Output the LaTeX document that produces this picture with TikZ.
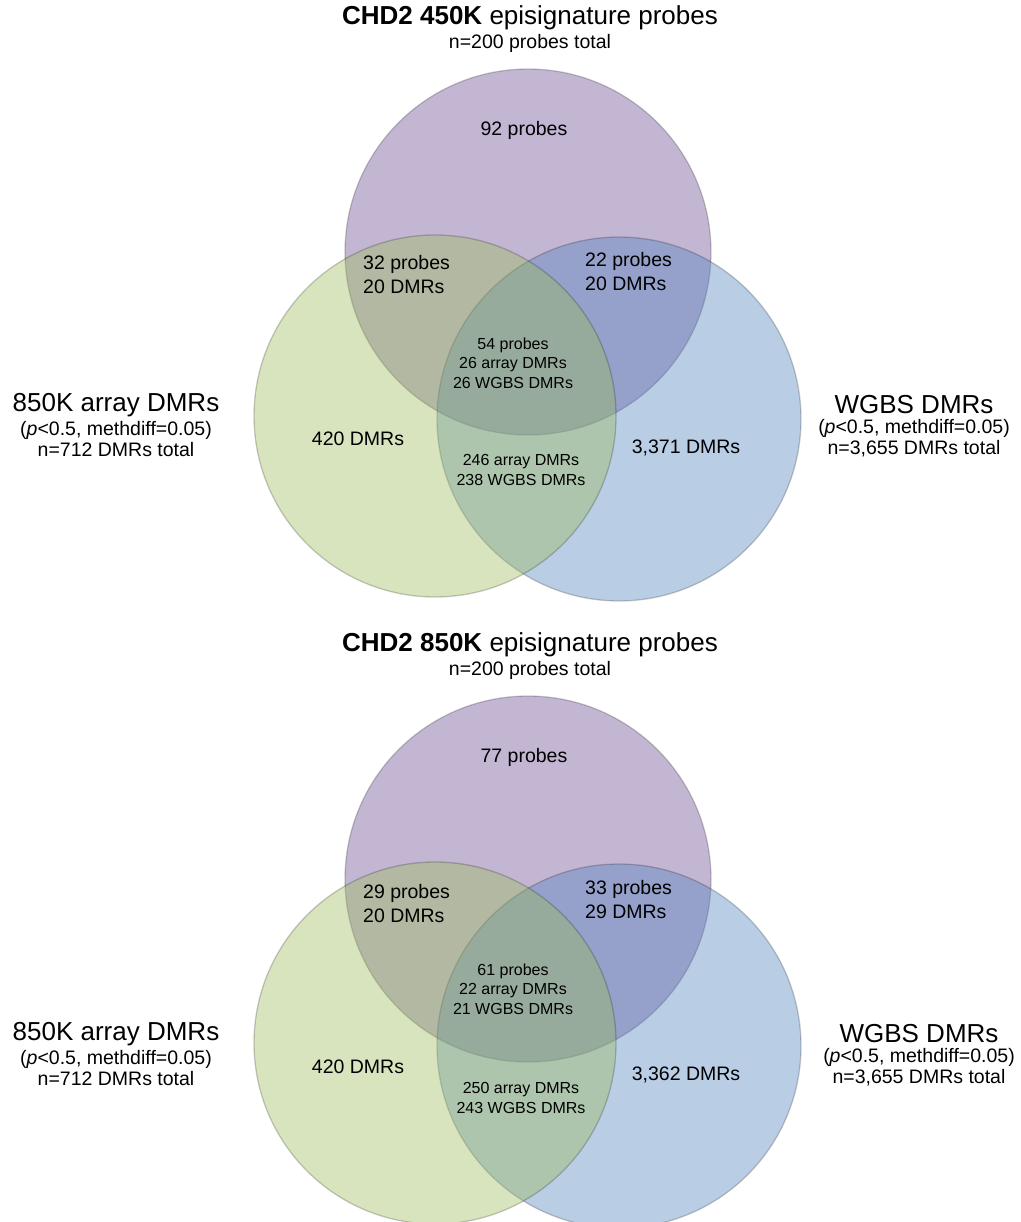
\documentclass[tikz,border=0pt]{standalone}
\usepackage{fontspec}
\setmainfont{Liberation Sans}
\usetikzlibrary{positioning}
\definecolor{probeset}{HTML}{8064A2}
\definecolor{arrayset}{HTML}{9BBB59}
\definecolor{wgbsset}{HTML}{4F81BD}
\newcommand{\fhead}{\fontsize{26}{30}\selectfont}
\newcommand{\fmid}{\fontsize{19.5}{24}\selectfont}
\newcommand{\fsub}{\fontsize{19.5}{21}\selectfont}
\newcommand{\fsmall}{\fontsize{16}{19.5}\selectfont}
% the three sets, probes at the back, array in front
\newcommand{\vennsets}{%
  \draw[ring, fill=probeset, fill opacity=0.47] (528,252) circle (183pt);
  \draw[ring, fill=wgbsset, fill opacity=0.4] (619,419) circle (182pt);
  \draw[ring, fill=arrayset, fill opacity=0.4] (435,416) circle (181pt);
}

\begin{document}
\begin{tikzpicture}[x=1pt,y=-1pt,
    ring/.style={line width=1.3pt, draw=black, draw opacity=0.2},
    txt/.style={inner sep=0pt, align=center}]
  \useasboundingbox (0,0) rectangle (1020,1222);

  % 450K episignature
  \vennsets
  \node[txt,font=\fhead] (T1) at (530,18) {\textbf{CHD2 450K} episignature probes};
  \node[txt,font=\fsub,below=4pt of T1] (N1) {n=200 probes total};
  \node[txt,font=\fmid] (P1) at (524,130) {92 probes};
  \node[txt,font=\fmid,align=left,anchor=west] (PA1) at (363,275) {32 probes\\20 DMRs};
  \node[txt,font=\fmid,align=left,anchor=west] (PC1) at (585,272) {22 probes\\20 DMRs};
  \node[txt,font=\fsmall] (PAC1) at (513,363) {54 probes\\26 array DMRs\\26 WGBS DMRs};
  \node[txt,font=\fmid] (A1) at (358,439) {420 DMRs};
  \node[txt,font=\fmid] (C1) at (686,448) {3,371 DMRs};
  \node[txt,font=\fsmall] (AC1) at (521,470) {246 array DMRs\\238 WGBS DMRs};
  \node[txt,font=\fhead] (LA1) at (116,405) {850K array DMRs};
  \node[txt,font=\fsub,below=4.5pt of LA1] (LAd1) {(\textit{p}<0.5, methdiff=0.05)\\n=712 DMRs total};
  \node[txt,font=\fhead] (LC1) at (914,405) {WGBS DMRs};
  \node[txt,font=\fsub,below=4.5pt of LC1] (LCd1) {(\textit{p}<0.5, methdiff=0.05)\\n=3,655 DMRs total};

  % 850K episignature
  \begin{scope}[yshift=-627pt]
    \vennsets
    \node[txt,font=\fhead] (T2) at (530,18) {\textbf{CHD2 850K} episignature probes};
    \node[txt,font=\fsub,below=4pt of T2] (N2) {n=200 probes total};
    \node[txt,font=\fmid] (P2) at (524,130) {77 probes};
    \node[txt,font=\fmid,align=left,anchor=west] (PA2) at (363,277) {29 probes\\20 DMRs};
    \node[txt,font=\fmid,align=left,anchor=west] (PC2) at (585,273) {33 probes\\29 DMRs};
    \node[txt,font=\fsmall] (PAC2) at (513,362) {61 probes\\22 array DMRs\\21 WGBS DMRs};
    \node[txt,font=\fmid] (A2) at (358,440) {420 DMRs};
    \node[txt,font=\fmid] (C2) at (686,448) {3,362 DMRs};
    \node[txt,font=\fsmall] (AC2) at (521,471) {250 array DMRs\\243 WGBS DMRs};
    \node[txt,font=\fhead] (LA2) at (116,407) {850K array DMRs};
    \node[txt,font=\fsub,below=4.5pt of LA2] (LAd2) {(\textit{p}<0.5, methdiff=0.05)\\n=712 DMRs total};
    \node[txt,font=\fhead] (LC2) at (919,407) {WGBS DMRs};
    \node[txt,font=\fsub,below=4.5pt of LC2] (LCd2) {(\textit{p}<0.5, methdiff=0.05)\\n=3,655 DMRs total};
  \end{scope}
\end{tikzpicture}
\end{document}
